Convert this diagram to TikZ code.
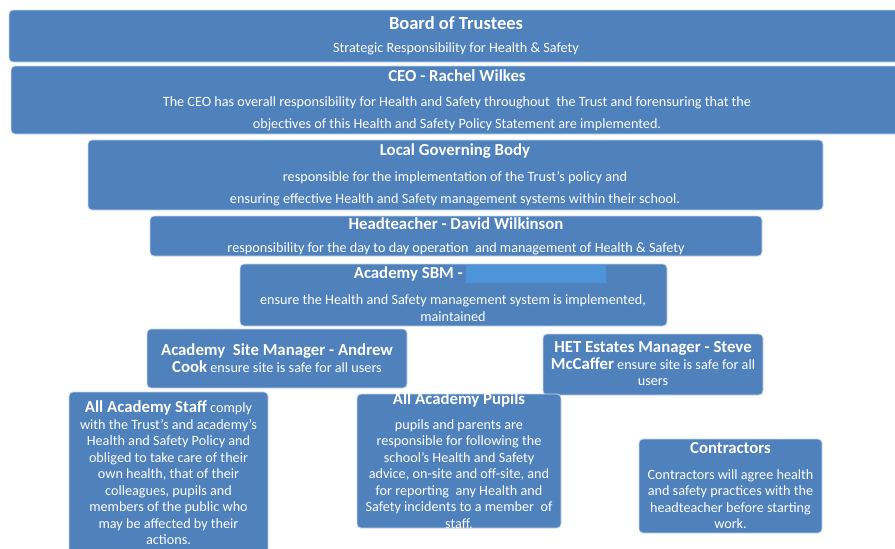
\documentclass[tikz,border=0pt]{standalone}
\usepackage{fontspec}
\setmainfont{Carlito}
\definecolor{boxblue}{RGB}{79,129,189}
\definecolor{boxedge}{RGB}{200,214,232}
\definecolor{hideblue}{RGB}{77,148,216}
\tikzset{
  box/.style={draw=boxedge, line width=0.8pt, fill=boxblue, rounded corners=4pt, inner sep=0pt},
  txt/.style={text=white, align=center, inner sep=0pt, font=\fontsize{14.2}{16.5}\selectfont},
  head/.style={text=white, inner sep=0pt, font=\fontsize{16.8}{19}\selectfont\bfseries}
}
\newcommand{\bighead}{\fontsize{16.8}{19}\selectfont\bfseries}
\begin{document}
\begin{tikzpicture}[x=1pt,y=-1pt]
\useasboundingbox (0,0) rectangle (895,549);

% boxes
\node[box, minimum width=892, minimum height=52] (board) at (455,36) {};
\node[box, minimum width=890, minimum height=68] (ceo) at (456,100) {};
\node[box, minimum width=735, minimum height=70] (lgb) at (455.5,175) {};
\node[box, minimum width=612, minimum height=40] (head) at (456,236) {};
\node[box, minimum width=427, minimum height=62] (sbm) at (453.5,295) {};
\node[box, minimum width=260, minimum height=59] (site) at (277,358.5) {};
\node[box, minimum width=220, minimum height=61] (het) at (653,364.5) {};
\node[box, minimum width=199, minimum height=170] (staff) at (168.5,477) {};
\node[box, minimum width=204, minimum height=134] (pupils) at (459,461) {};
\node[box, minimum width=183, minimum height=94] (contr) at (730.5,486) {};

% texts
\node[head, font=\fontsize{18.5}{20}\selectfont\bfseries] (boardT) at (456,23) {Board of Trustees};
\node[txt] (boardS) at (456,49) {Strategic Responsibility for Health \& Safety};

\node[head] (ceoT) at (457,76) {CEO - Rachel Wilkes};
\node[txt, font=\fontsize{14.2}{22}\selectfont] (ceoS) at (457,114) {The CEO has overall responsibility for Health and Safety throughout\ \ the Trust and forensuring that the\\
objectives of this Health and Safety Policy Statement\ are implemented.};

\node[head] (lgbT) at (455,151) {Local Governing Body};
\node[txt, font=\fontsize{14.2}{22}\selectfont] (lgbS) at (455,189) {responsible for the implementation\ of the Trust’s policy and\\
ensuring effective Health and Safety management systems within their\ school.};

\node[head] (headT) at (456,224) {Headteacher - David Wilkinson};
\node[txt] (headS) at (456,249) {responsibility for the day to day operation\ \ and management of Health \& Safety};

\node[head, anchor=east] (sbmT) at (463,274) {Academy SBM -};
\fill[hideblue] (466,265) rectangle (606,283);
\node[txt] (sbmS) at (453,308) {ensure the Health and Safety management system is implemented,\\ maintained};

\node[txt] (siteT) at (277,358) {{\bighead Academy\ \ Site Manager - Andrew}\\[1pt]
{\bighead Cook} ensure site is safe for all users};

\node[txt] (hetT) at (653,364) {{\bighead HET Estates Manager - Steve}\\[0pt]
{\bighead McCaffer} ensure site is safe for all\\ users};

\node[txt] (staffT) at (168.5,473) {{\bighead All Academy Staff} comply\\
with the Trust’s and academy’s\\
Health and Safety Policy and\\
obliged to take care of their\\
own health, that of their\\
colleagues, pupils and\\
members\ of the public who\\
may be affected by their\\
actions.};

\node[head] (pupilsT) at (459,400) {All Academy Pupils};
\node[txt] (pupilsS) at (459,474) {pupils and\ parents are\\
responsible for\ following the\\
school’s Health and Safety\\
advice, on-site and off-site, and\\
for reporting\ \ any Health and\\
Safety incidents to a member\ \ of\\
staff.};

\node[head] (contrT) at (730.5,448) {Contractors};
\node[txt] (contrS) at (730.5,499) {Contractors will agree health\\
and safety practices with the\\
headteacher\ before starting\\
work.};

\end{tikzpicture}
\end{document}
